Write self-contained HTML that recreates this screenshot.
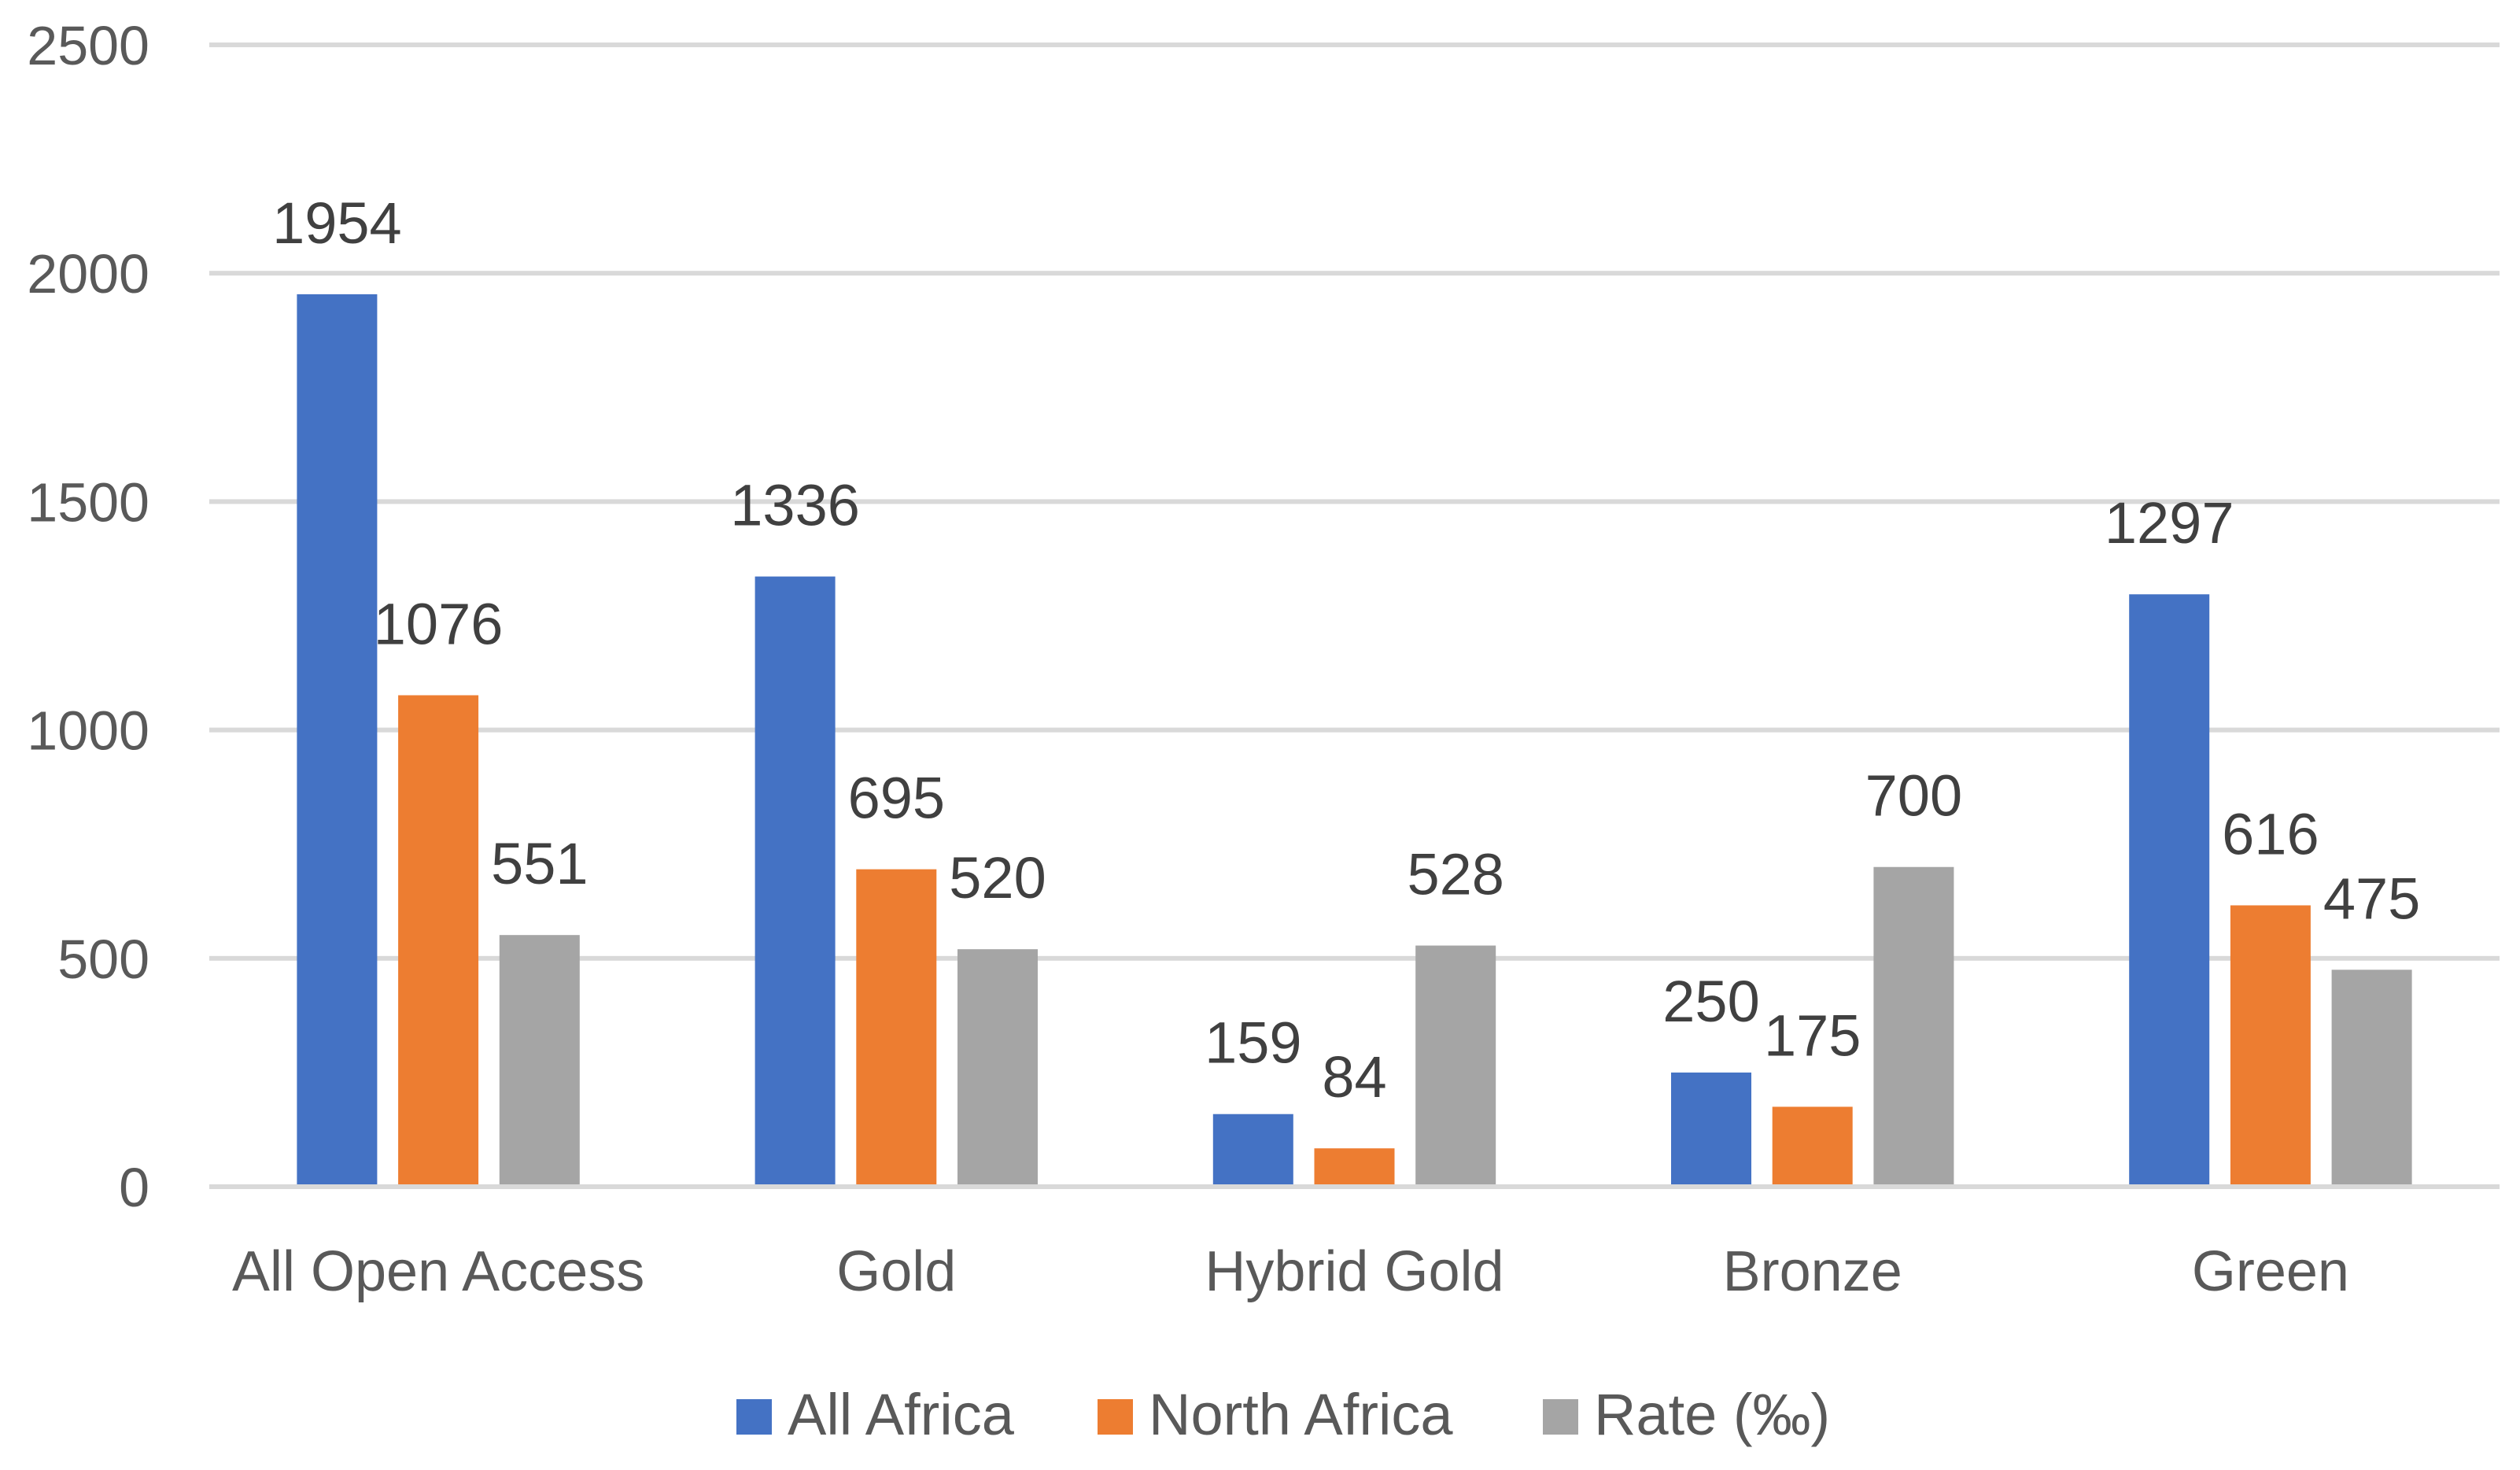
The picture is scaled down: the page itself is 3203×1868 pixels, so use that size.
<!DOCTYPE html>
<html><head><meta charset="utf-8"><style>
html,body{margin:0;padding:0;background:#fff;width:3203px;height:1868px;overflow:hidden}
svg text{font-family:"Liberation Sans",sans-serif}
</style></head><body>
<svg id="chart" width="3203" height="1868" viewBox="0 0 3203 1868" xmlns="http://www.w3.org/2000/svg">
<g id="grid"></g>
<g id="yaxis"></g>
<g id="bars"></g>
<g id="labels"></g>
<g id="xaxis"></g>
<g id="legend"></g>
</svg>
<script>
const categories = ["All Open Access","Gold","Hybrid Gold","Bronze","Green"];
const allAfrica = [1954,1336,159,250,1297];
const northAfrica = [1076,695,84,175,616];
const rate = [551,520,528,700,475];
const yTicks = [0,500,1000,1500,2000,2500];
const seriesNames = ["All Africa","North Africa","Rate (‰)"];

const NS="http://www.w3.org/2000/svg";
const X0=266, X1=3177, Y0=1508, Y1=57, YMAX=2500;
const colors=["#4472c4","#ed7d31","#a5a5a5"];
const series=[allAfrica,northAfrica,rate];
function y(v){return Y0-(v/YMAX)*(Y0-Y1);}
const bandW=(X1-X0)/categories.length;
function xc(i){return X0+bandW*(i+0.5);}
const barW=102, step=128.7;
function mk(tag,attrs,parent){const e=document.createElementNS(NS,tag);for(const k in attrs)e.setAttribute(k,attrs[k]);parent.appendChild(e);return e;}
const grid=document.getElementById('grid'),yax=document.getElementById('yaxis'),bars=document.getElementById('bars'),labels=document.getElementById('labels'),xax=document.getElementById('xaxis'),leg=document.getElementById('legend');
yTicks.forEach(t=>{
  const l=mk('rect',{x:X0,y:y(t)-3,width:X1-X0,height:6,fill:'#d9d9d9'},grid);
  
  
  const tx=mk('text',{x:190,y:y(t)+25,'text-anchor':'end','font-size':70,fill:'#595959'},yax);
  tx.textContent=t;
  
  
});
categories.forEach((c,i)=>{
  series.forEach((s,j)=>{
    const cx=xc(i)+(j-1)*step;
    const top=y(s[i]);
    const r=mk('rect',{x:cx-barW/2,y:top,width:barW,height:Y0-3-top,fill:colors[j]},bars);
    
    
    const t=mk('text',{x:cx,y:top-65,'text-anchor':'middle','font-size':74,fill:'#404040'},labels);
    t.textContent=s[i];
    
    
  });
  const t=mk('text',{x:xc(i),y:1640,'text-anchor':'middle','font-size':72,fill:'#595959'},xax);
  t.textContent=c;
  
  
});
const legX=[936,1395,1961];
seriesNames.forEach((n,j)=>{
  const r=mk('rect',{x:legX[j],y:1778,width:45,height:45,fill:colors[j]},leg);
  
  
  const t=mk('text',{x:legX[j]+65,y:1823,'font-size':74,fill:'#595959'},leg);
  t.textContent=n;
  
  
});
</script>
</body></html>
